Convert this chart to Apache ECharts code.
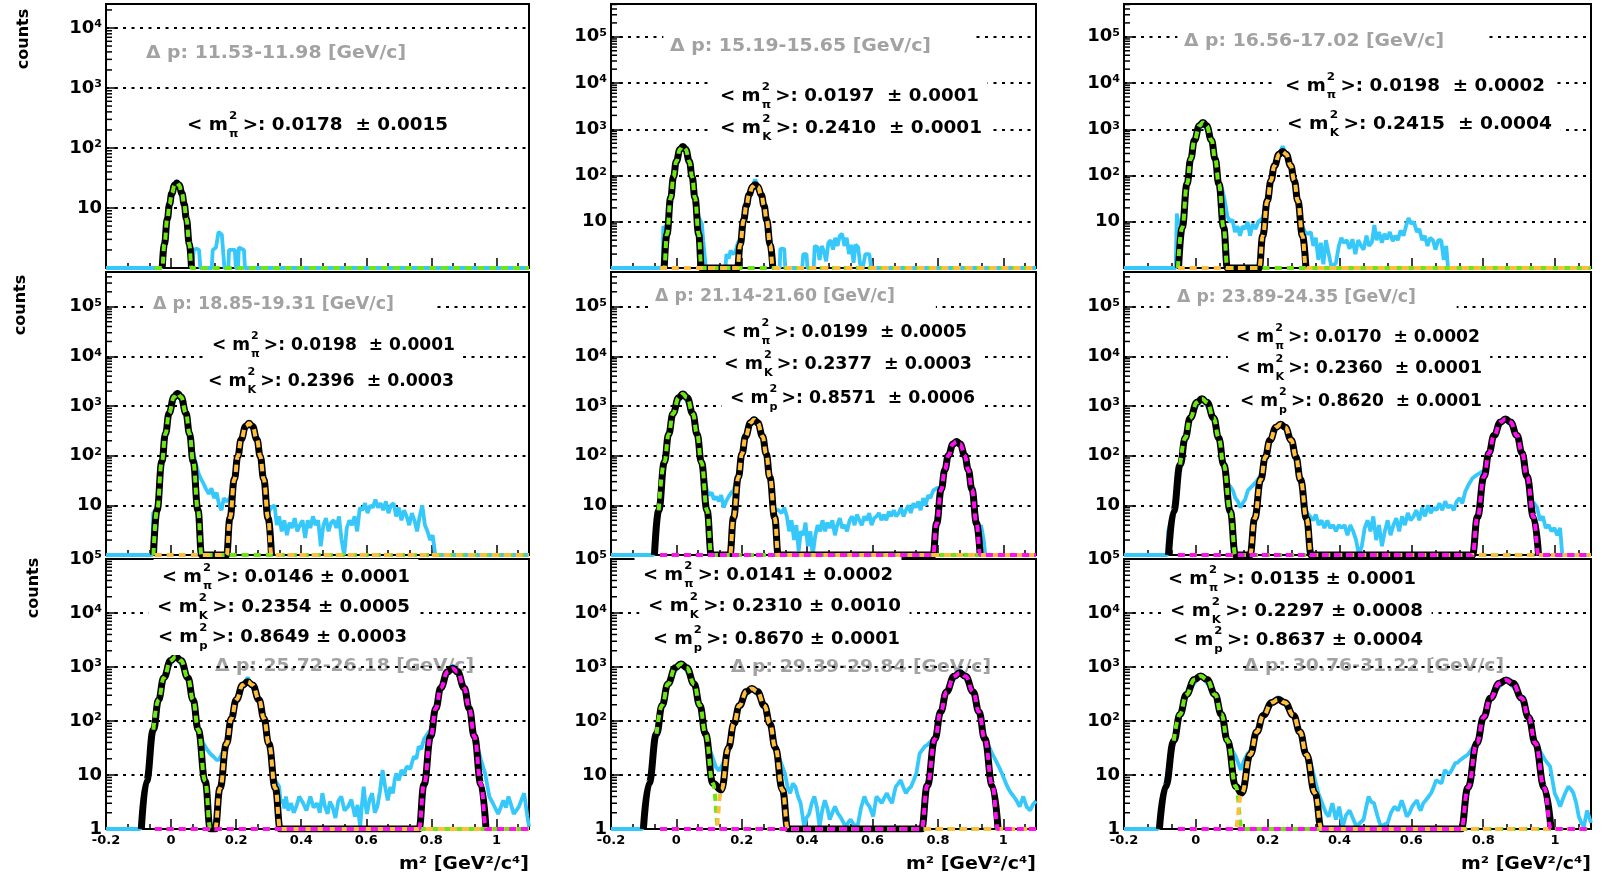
<!DOCTYPE html>
<html><head><meta charset="utf-8">
<script src="https://cdn.jsdelivr.net/npm/echarts@6/dist/echarts.min.js"></script>
<style>html,body{margin:0;padding:0;background:#fff;}#c{width:1610px;height:879px;}</style>
</head><body><div id="c"></div>
<script>
// ================= DATA =================
const momentumBins = ['11.53-11.98','15.19-15.65','16.56-17.02','18.85-19.31','21.14-21.60','23.89-24.35','25.72-26.18','29.39-29.84','30.76-31.22'];
const pionMean   = ['0.0178','0.0197','0.0198','0.0198','0.0199','0.0170','0.0146','0.0141','0.0135'];
const pionErr    = ['0.0015','0.0001','0.0002','0.0001','0.0005','0.0002','0.0001','0.0002','0.0001'];
const kaonMean   = [null,'0.2410','0.2415','0.2396','0.2377','0.2360','0.2354','0.2310','0.2297'];
const kaonErr    = [null,'0.0001','0.0004','0.0003','0.0003','0.0001','0.0005','0.0010','0.0008'];
const protonMean = [null,null,null,null,'0.8571','0.8620','0.8649','0.8670','0.8637'];
const protonErr  = [null,null,null,null,'0.0006','0.0001','0.0003','0.0001','0.0004'];
const yTopExp    = [4.4,5.71,5.71,5.7,5.7,5.7,5,5,5];   // top of each log axis, as power of ten
const xRange     = [-0.2, 1.1];
const xTickStep  = 0.2;

// measured histograms (m^2, counts)
const hist1 = [[-0.2,1],[-0.03,1],[-0.024,2.5],[-0.012,7],[0.002,18],[0.017,29],[0.033,18],[0.047,7],[0.056,2.6],[0.064,1],[0.068,1],[0.07,2],[0.078,2.1],[0.086,2],[0.09,1],[0.125,1],[0.128,2],[0.138,2.2],[0.146,4],[0.156,3.6],[0.164,1],[0.176,1],[0.178,2],[0.196,2],[0.199,1],[0.206,1],[0.208,2.2],[0.224,2],[0.227,1],[1.1,1]];
const hist2 = [[-0.2,1],[-0.042,1],[-0.04,8],[-0.034,7],[-0.0288,6],[-0.0174,34],[-0.0003,205],[0.0197,450],[0.0397,210],[0.0568,36],[0.066,14],[0.072,11],[0.078,9],[0.082,4],[0.086,2],[0.09,1],[0.15,1],[0.153,2],[0.16,1.6],[0.166,2.4],[0.172,2],[0.18,2.2],[0.188,3.5],[0.1951,4],[0.2059,12],[0.2221,40],[0.241,82],[0.2599,40],[0.2761,12],[0.2869,3.4],[0.295,1],[0.316,1],[0.318,2.6],[0.33,2.6],[0.333,1],[0.385,1],[0.388,2],[0.398,2],[0.401,1],[0.42,1],[0.423,3],[0.432,2.8],[0.438,1.5],[0.445,3],[0.452,2.2],[0.458,1.4],[0.465,3.5],[0.472,4],[0.479,2.5],[0.486,4.5],[0.493,3],[0.5,5],[0.507,5.5],[0.514,3],[0.521,4.5],[0.528,2],[0.535,3.2],[0.542,1.3],[0.548,3.2],[0.556,2.8],[0.562,1.2],[0.57,1],[0.578,2],[0.59,2],[0.596,1],[1.1,1]];
const hist3 = [[-0.2,1],[-0.056,1],[-0.053,15],[-0.048,9],[-0.038,9],[-0.0244,70],[-0.004,590],[0.0198,1450],[0.0436,600],[0.064,75],[0.072,57],[0.08,30],[0.088,13],[0.095,10],[0.102,11],[0.109,6],[0.116,8],[0.123,5],[0.13,8],[0.137,7],[0.144,10],[0.151,5],[0.158,9],[0.166,7],[0.174,10],[0.1862,12],[0.1992,30],[0.2187,165],[0.2415,430],[0.2643,165],[0.2838,30],[0.2968,8],[0.304,6],[0.312,5.5],[0.32,6],[0.327,3],[0.334,4.5],[0.341,1.5],[0.348,3.5],[0.355,1.2],[0.362,4],[0.37,2],[0.378,1],[0.39,1.3],[0.398,3],[0.405,4.5],[0.412,3.5],[0.42,4],[0.428,2.6],[0.436,4.2],[0.444,2],[0.452,4],[0.46,3],[0.467,2.5],[0.475,5],[0.482,3],[0.49,3.6],[0.497,8.5],[0.503,4],[0.51,6],[0.518,3.5],[0.525,5.5],[0.532,4.2],[0.54,6],[0.548,3.8],[0.555,5],[0.562,4],[0.57,6.5],[0.578,5],[0.585,8],[0.592,12],[0.6,9],[0.607,10],[0.615,6],[0.622,7],[0.63,4],[0.637,5],[0.645,3],[0.652,4.5],[0.66,4],[0.667,2.5],[0.675,4],[0.683,4],[0.69,1.5],[0.697,3],[0.702,1],[1.1,1]];
const hist4 = [[-0.2,1],[-0.058,1],[-0.055,7],[-0.043,9],[-0.0283,78],[-0.0061,720],[0.0198,1900],[0.0457,720],[0.068,120],[0.076,70],[0.084,45],[0.092,34],[0.1,27],[0.108,21],[0.116,17],[0.124,22],[0.132,14],[0.14,18],[0.148,10],[0.155,8],[0.162,14],[0.17,12],[0.181,14],[0.1947,36],[0.2154,215],[0.2396,500],[0.2638,215],[0.2845,35],[0.2983,7],[0.308,9],[0.318,10],[0.325,4],[0.332,6],[0.34,3],[0.348,5],[0.356,2.5],[0.364,4.5],[0.372,3.5],[0.38,5.5],[0.388,3],[0.396,4],[0.404,5],[0.412,2.2],[0.42,5],[0.428,3.5],[0.436,6],[0.444,4],[0.452,5],[0.46,1.5],[0.468,4],[0.476,5.5],[0.484,3],[0.492,4.5],[0.5,5],[0.508,3.5],[0.516,6],[0.524,2],[0.532,1],[0.54,3.5],[0.548,5],[0.556,4],[0.564,6],[0.572,3],[0.58,9],[0.588,8],[0.596,11],[0.604,7],[0.612,10],[0.62,9],[0.628,13],[0.636,9],[0.644,11],[0.652,8],[0.66,12],[0.668,7],[0.676,10],[0.684,11],[0.692,6],[0.7,9],[0.708,5],[0.716,8],[0.724,6],[0.732,4],[0.74,7],[0.748,5],[0.756,3],[0.764,6],[0.772,10],[0.78,4],[0.788,3],[0.796,2],[0.804,2.5],[0.812,1],[1.1,1]];
const hist5 = [[-0.2,1],[-0.07,1],[-0.067,2.5],[-0.0541,8],[-0.0367,76],[-0.0106,700],[0.0199,1800],[0.0504,700],[0.0765,76],[0.084,48],[0.092,22],[0.1,16],[0.108,18],[0.115,13],[0.122,15],[0.13,12],[0.137,16],[0.145,9],[0.152,12],[0.16,15],[0.168,18],[0.1748,20],[0.1896,40],[0.2118,250],[0.2377,600],[0.2636,250],[0.2858,38],[0.3006,8],[0.312,8],[0.322,7],[0.33,9],[0.338,6],[0.345,3],[0.352,5],[0.36,2],[0.367,4],[0.374,1.2],[0.381,3],[0.388,2.5],[0.395,4.5],[0.402,1.5],[0.41,3],[0.417,1],[0.425,2.5],[0.432,4],[0.44,3],[0.447,5],[0.455,3],[0.462,4.5],[0.47,3.5],[0.477,5],[0.485,2.5],[0.492,4],[0.5,5.5],[0.507,3.5],[0.515,4],[0.522,3],[0.53,5],[0.537,6],[0.545,4],[0.552,6.5],[0.56,5],[0.567,4],[0.575,6],[0.582,5],[0.59,7],[0.597,4],[0.605,5.5],[0.612,6],[0.62,7],[0.627,5],[0.635,6.5],[0.642,5],[0.65,7.5],[0.657,6],[0.665,8],[0.672,6],[0.68,7],[0.687,9],[0.695,6],[0.702,8],[0.71,10],[0.717,7],[0.725,11],[0.732,9],[0.74,12],[0.747,8],[0.755,14],[0.762,10],[0.77,16],[0.777,14],[0.786,20],[0.7959,22],[0.8103,24],[0.8319,105],[0.8571,215],[0.8823,105],[0.9039,22],[0.9183,6],[0.925,3],[0.932,4],[0.94,2],[0.945,1],[1.1,1]];
const hist6 = [[-0.2,1],[-0.08,1],[-0.077,3],[-0.0621,8],[-0.0435,66],[-0.0156,580],[0.017,1500],[0.0496,580],[0.0775,66],[0.09,26],[0.096,24],[0.103,20],[0.11,14],[0.117,12],[0.124,9],[0.13,11],[0.137,13],[0.145,20],[0.158,25],[0.168,30],[0.1807,40],[0.2062,210],[0.236,480],[0.2658,210],[0.2913,35],[0.3,12],[0.31,7],[0.318,6],[0.326,5],[0.334,6.5],[0.342,4],[0.35,5],[0.358,3.5],[0.366,5],[0.374,3.5],[0.382,4],[0.39,3],[0.398,4],[0.406,3.5],[0.414,4],[0.422,2.5],[0.43,4],[0.438,3],[0.446,2],[0.454,1],[0.462,1.5],[0.47,3.5],[0.478,5],[0.486,3],[0.494,6],[0.502,2],[0.51,4],[0.518,1.5],[0.526,3],[0.534,5],[0.542,2.5],[0.55,4],[0.558,5.5],[0.566,3],[0.574,6],[0.582,4],[0.59,7],[0.598,5],[0.606,6],[0.614,8],[0.622,5],[0.63,9],[0.638,6],[0.646,10],[0.654,7],[0.662,9],[0.67,8],[0.678,11],[0.686,8],[0.694,12],[0.702,9],[0.71,10],[0.718,8],[0.726,12],[0.734,14],[0.742,11],[0.75,19],[0.758,25],[0.77,35],[0.78,40],[0.8022,50],[0.8298,260],[0.862,600],[0.8942,260],[0.9218,40],[0.935,12],[0.942,11],[0.95,9],[0.958,5],[0.966,6],[0.974,3.5],[0.982,4],[0.99,3],[0.998,3.5],[1.006,2.5],[1.014,3.5],[1.02,1],[1.1,1]];
const hist7 = [[-0.2,1],[-0.095,1],[-0.0914,2],[-0.0755,8],[-0.0543,70],[-0.0225,640],[0.0146,1700],[0.0517,640],[0.0835,72],[0.099,39],[0.11,30],[0.12,25],[0.13,22],[0.14,19],[0.147,19],[0.155,24],[0.163,30],[0.1704,40],[0.2004,255],[0.2354,640],[0.2704,255],[0.3004,40],[0.32,8],[0.332,6.1],[0.337,3],[0.343,3.5],[0.348,2.4],[0.353,4],[0.36,2.2],[0.369,3],[0.377,2],[0.385,2.6],[0.394,4],[0.406,3],[0.416,2.2],[0.428,4],[0.438,2.5],[0.449,3],[0.457,2],[0.465,4.6],[0.473,2.6],[0.481,1.9],[0.488,3.2],[0.496,2.6],[0.505,1.6],[0.514,3.3],[0.523,4],[0.533,2.2],[0.544,2.6],[0.554,3.5],[0.565,1.7],[0.573,2.8],[0.581,1.1],[0.587,3],[0.592,6.1],[0.597,3],[0.602,1.9],[0.61,3.5],[0.618,4.6],[0.626,2],[0.634,2.6],[0.642,5],[0.65,12.4],[0.658,6],[0.666,3.4],[0.674,6],[0.682,4.6],[0.687,8],[0.692,10.7],[0.7,8],[0.708,12.4],[0.716,10],[0.724,14.4],[0.735,13],[0.746,22],[0.754,20],[0.761,34],[0.769,30],[0.777,46],[0.7979,70],[0.8289,420],[0.8649,1100],[0.9009,420],[0.9319,55],[0.9525,19],[0.965,10.7],[0.978,4],[0.989,3],[1.005,1.9],[1.013,2.5],[1.021,3.4],[1.029,2.5],[1.037,4],[1.045,2.8],[1.053,1.9],[1.061,2.2],[1.069,2.6],[1.077,3.5],[1.085,4.6],[1.095,1.7],[1.1,1.1]];
const hist8 = [[-0.2,1],[-0.104,1],[-0.1009,2],[-0.0837,8],[-0.0607,60],[-0.0262,490],[0.0141,1250],[0.0544,490],[0.0889,60],[0.1,33],[0.11,22],[0.121,14],[0.131,12],[0.142,16],[0.1595,34],[0.1925,200],[0.231,430],[0.2695,200],[0.3025,33],[0.332,10.7],[0.34,6],[0.348,4.6],[0.356,7],[0.364,6.1],[0.372,4],[0.38,3],[0.391,1.1],[0.398,1.6],[0.406,1.9],[0.414,3],[0.422,4],[0.43,2.5],[0.438,1.1],[0.446,2.2],[0.454,3.4],[0.462,2.4],[0.469,1.5],[0.477,2],[0.485,2.6],[0.493,2],[0.501,1.7],[0.509,1.4],[0.517,1.1],[0.525,1.3],[0.533,1.5],[0.543,1.2],[0.554,1.1],[0.565,2.5],[0.575,4],[0.583,3],[0.591,2.6],[0.602,1.7],[0.612,4],[0.62,3.5],[0.628,3],[0.636,3.8],[0.644,4.6],[0.652,3.6],[0.66,3],[0.666,4.5],[0.671,6.1],[0.679,7],[0.686,8],[0.694,6],[0.702,4.6],[0.71,5.5],[0.718,6.1],[0.726,8],[0.734,10.7],[0.744,25],[0.76,34],[0.7675,36],[0.7909,50],[0.826,350],[0.867,900],[0.908,350],[0.9431,50],[0.966,25],[0.976,19],[0.987,14],[0.998,10],[1.008,7],[1.016,5.5],[1.024,4.6],[1.032,4],[1.04,3.4],[1.05,2.6],[1.061,4],[1.071,2.6],[1.082,2.2],[1.09,2.8],[1.1,3.3]];
const hist9 = [[-0.2,1],[-0.105,1],[-0.1015,1.5],[-0.0843,7],[-0.0613,45],[-0.0268,310],[0.0135,720],[0.0538,310],[0.0883,44],[0.101,29],[0.111,22],[0.125,12.4],[0.135,19],[0.144,25],[0.1517,28],[0.1877,135],[0.2297,280],[0.2717,130],[0.3077,25],[0.322,14.4],[0.332,8],[0.341,4.6],[0.348,3.5],[0.355,2.6],[0.362,2],[0.37,1.7],[0.38,3],[0.39,1.5],[0.399,2.6],[0.409,1.1],[0.418,1.8],[0.428,2.2],[0.437,1.6],[0.447,1.1],[0.457,1.3],[0.467,1.5],[0.474,2.5],[0.481,4],[0.488,3.2],[0.496,3],[0.505,1.8],[0.515,1.1],[0.524,1.2],[0.534,1.3],[0.543,2],[0.553,2.6],[0.563,2.2],[0.573,3.4],[0.58,2.5],[0.587,1.7],[0.595,2],[0.602,2.6],[0.609,3],[0.616,3.4],[0.621,2.5],[0.626,2.2],[0.633,3],[0.64,3.4],[0.648,4],[0.655,4.6],[0.662,6],[0.669,8],[0.676,7.5],[0.684,7],[0.693,12.4],[0.7,11],[0.707,10.7],[0.714,13],[0.722,16.6],[0.729,17],[0.736,19],[0.745,21],[0.7574,24],[0.7824,42],[0.8199,270],[0.8637,620],[0.9075,270],[0.945,40],[0.972,19],[0.986,14.4],[0.999,4.6],[1.007,3.5],[1.014,2.6],[1.021,3.5],[1.028,4.6],[1.037,6.1],[1.044,5.5],[1.051,4.6],[1.059,3],[1.066,1.7],[1.073,1.3],[1.08,1.1],[1.089,2.2],[1.1,1.3]];

// fitted peak curves (m^2, counts)
const fitPi1 = [[-0.0272,1],[-0.0205,2.5],[-0.0115,6.6],[-0.0047,11.5],[0.0020,17.4],[0.0111,24.2],[0.0178,26],[0.0246,24.2],[0.0336,17.4],[0.0403,11.5],[0.0471,6.6],[0.0561,2.5],[0.0628,1]];
const fitPi2 = [[-0.0373,1],[-0.0288,5.4],[-0.0174,33],[-0.0088,93.5],[-0.0003,202],[0.0112,371],[0.0197,425],[0.0283,371],[0.0397,202],[0.0482,93.5],[0.0568,33],[0.0682,5.4],[0.0767,1]];
const fitK2  = [[0.187,1],[0.1951,3.2],[0.2059,11],[0.214,22.4],[0.2221,38],[0.2329,57.5],[0.241,63],[0.2491,57.5],[0.2599,38],[0.268,22.4],[0.2761,11],[0.2869,3.2],[0.295,1]];
const fitPi3 = [[-0.0482,1],[-0.038,7.5],[-0.0244,66],[-0.0142,229],[-0.004,576],[0.0096,1189],[0.0198,1400],[0.03,1189],[0.0436,576],[0.0538,229],[0.064,66],[0.0776,7.5],[0.0878,1]];
const fitK3  = [[0.1765,1],[0.1862,5],[0.1992,28.5],[0.209,77.5],[0.2187,162],[0.2318,290],[0.2415,330],[0.2513,290],[0.2643,162],[0.274,77.5],[0.2838,28.5],[0.2968,5],[0.3065,1]];
const fitPi4 = [[-0.0542,1],[-0.0431,8],[-0.0283,76],[-0.0172,276],[-0.0061,718],[0.0087,1520],[0.0198,1800],[0.0309,1520],[0.0457,718],[0.0568,276],[0.0679,76],[0.0827,8],[0.0938,1]];
const fitK4  = [[0.1706,1],[0.1809,5.5],[0.1947,34],[0.2051,97.7],[0.2154,213],[0.2293,392],[0.2396,450],[0.25,392],[0.2638,213],[0.2741,97.7],[0.2845,34],[0.2983,5.5],[0.3086,1]];
const fitPi5 = [[-0.0671,1],[-0.0541,7.9],[-0.0367,74],[-0.0236,269],[-0.0106,697],[0.0069,1469],[0.0199,1740],[0.033,1469],[0.0504,697],[0.0634,269],[0.0765,74],[0.0939,7.9],[0.1069,1]];
const fitK5  = [[0.1637,1],[0.1748,5.7],[0.1896,37],[0.2007,110],[0.2118,246],[0.2266,460],[0.2377,530],[0.2488,460],[0.2636,246],[0.2747,110],[0.2858,37],[0.3006,5.7],[0.3117,1]];
const fitP5  = [[0.7851,1],[0.7959,4.3],[0.8103,21],[0.8211,51.8],[0.8319,101],[0.8463,172],[0.8571,193],[0.8679,172],[0.8823,101],[0.8931,51.8],[0.9039,21],[0.9183,4.3],[0.9291,1]];
const fitPi6 = [[-0.076,1],[-0.0621,7.5],[-0.0435,66],[-0.0295,229],[-0.0156,576],[0.0031,1189],[0.017,1400],[0.031,1189],[0.0496,576],[0.0635,229],[0.0775,66],[0.0961,7.5],[0.11,1]];
const fitK6  = [[0.151,1],[0.1637,5.4],[0.1807,33],[0.1935,94.4],[0.2062,204],[0.2233,375],[0.236,430],[0.2488,375],[0.2658,204],[0.2785,94.4],[0.2913,33],[0.3083,5.4],[0.321,1]];
const fitP6  = [[0.77,1],[0.7838,5.8],[0.8022,38],[0.816,113.5],[0.8298,254],[0.8482,477],[0.862,550],[0.8758,477],[0.8942,254],[0.908,113.5],[0.9218,38],[0.9402,5.8],[0.954,1]];
const fitPi7 = [[-0.0914,1],[-0.0755,7.7],[-0.0543,69],[-0.0384,247],[-0.0225,630],[-0.0013,1313],[0.0146,1550],[0.0305,1313],[0.0517,630],[0.0676,247],[0.0835,69],[0.1047,7.7],[0.1206,1]];
const fitK7  = [[0.1354,1],[0.1504,5.7],[0.1704,38],[0.1854,111],[0.2004,248],[0.2204,464],[0.2354,535],[0.2504,464],[0.2704,248],[0.2854,111],[0.3004,38],[0.3204,5.7],[0.3354,1]];
const fitP7  = [[0.7619,1],[0.7773,6.7],[0.7979,52],[0.8134,171],[0.8289,410],[0.8495,815],[0.8649,950],[0.8804,815],[0.9009,410],[0.9164,171],[0.9319,52],[0.9525,6.7],[0.9679,1]];
const fitPi8 = [[-0.1009,1],[-0.0837,7],[-0.0607,58],[-0.0434,196],[-0.0262,482],[-0.0032,973],[0.0141,1140],[0.0314,973],[0.0544,482],[0.0716,196],[0.0889,58],[0.1119,7],[0.1291,1]];
const fitK8  = [[0.121,1],[0.1375,5.3],[0.1595,32],[0.176,89.4],[0.1925,192],[0.2145,350],[0.231,400],[0.2475,350],[0.2695,192],[0.286,89.4],[0.3025,32],[0.3245,5.3],[0.341,1]];
const fitP8  = [[0.75,1],[0.7675,6.4],[0.7909,47],[0.8085,147.6],[0.826,345],[0.8495,671],[0.867,780],[0.8846,671],[0.908,345],[0.9255,147.6],[0.9431,47],[0.9665,6.4],[0.984,1]];
const fitPi9 = [[-0.1015,1],[-0.0843,6.1],[-0.0613,43],[-0.044,133],[-0.0268,306],[-0.0038,588],[0.0135,680],[0.0308,588],[0.0538,306],[0.071,133],[0.0883,43],[0.1113,6.1],[0.1285,1]];
const fitK9  = [[0.1097,1],[0.1277,4.6],[0.1517,24],[0.1697,62.9],[0.1877,127],[0.2117,221],[0.2297,250],[0.2477,221],[0.2717,127],[0.2897,62.9],[0.3077,24],[0.3317,4.6],[0.3497,1]];
const fitP9  = [[0.7387,1],[0.7574,5.8],[0.7824,39],[0.8012,117.5],[0.8199,264],[0.845,499],[0.8637,575],[0.8825,499],[0.9075,264],[0.9262,117.5],[0.945,39],[0.97,5.8],[0.9887,1]];

const panelHist = [hist1,hist2,hist3,hist4,hist5,hist6,hist7,hist8,hist9];
const panelFits = [[fitPi1],[fitPi2,fitK2],[fitPi3,fitK3],[fitPi4,fitK4],[fitPi5,fitK5,fitP5],[fitPi6,fitK6,fitP6],[fitPi7,fitK7,fitP7],[fitPi8,fitK8,fitP8],[fitPi9,fitK9,fitP9]];

// ================= LAYOUT / STYLE =================
const colLeft = [106, 611, 1124], colWidth = [423, 425, 467];
const rowTop = [4, 272, 559], rowHeight = [264, 283, 270];
const BLUE = '#36c8fb';
const COMP_COLORS = ['#6ee614', '#ffbe3c', '#ff10ee'];
const FAM = '"DejaVu Sans"';
const COMP_START = -0.05;

const dpPos = [[146,54,260],[670,47,261],[1184,42,260],[153,305,241],[655,297,240],[1177,298,239],[215,667,259],[731,668,260],[1244,667,260]];
const massPos = [
  [[187,126,261]],
  [[720,97,259],[720,129,262]],
  [[1285,87,260],[1287,125,265]],
  [[212,346,243],[208,382,246]],
  [[722,333,245],[724,365,248],[730,399,245]],
  [[1236,338,244],[1236,369,246],[1240,402,242]],
  [[162,578,248],[157,608,253],[158,638,249]],
  [[643,576,250],[648,607,253],[653,640,247]],
  [[1168,580,248],[1170,612,253],[1173,641,250]]
];
const countsPos = [[24,39],[21,305],[34,588]];

const mctx = document.createElement('canvas').getContext('2d');
function textW(s, font){ mctx.font = font; return mctx.measureText(s).width; }

function totalCurve(fits){
  const pts = [];
  fits.forEach((f, idx) => f.forEach(p => {
    const inside = p[1] <= 1 && fits.some((g, j) => j !== idx && p[0] > g[0][0] && p[0] < g[g.length-1][0]);
    if (!inside) pts.push(p);
  }));
  return pts.sort((a, b) => a[0] - b[0]);
}
function componentCurve(fit){
  const pts = fit.filter(p => p[0] >= COMP_START - 0.012);
  const out = [];
  if (pts[0][0] > COMP_START && pts[0][1] <= 1) out.push([COMP_START, 1]);
  return out.concat(pts, [[xRange[1], 1]]);
}

function txt(x, y, s, font, fill, z, extra){
  return Object.assign({type:'text', x:x, y:y, z:z, silent:true,
    style:{text:s, font:font, fill:fill, align:'left', verticalAlign:'middle', textVerticalAlign:'middle'}}, extra || {});
}
function massLine(pos, sub, mean, err, sep, bg){
  const fM = 'bold 17px ' + FAM, fS = 'bold 11px ' + FAM;
  const head = '< m', rest = '>: ' + mean + sep + '\u00b1 ' + err;
  const w1 = textW(head, fM) + 1;
  const ws = Math.max(textW('2', fS), textW(sub, fS)) + 4;
  const w3 = textW(rest, fM);
  const nat = w1 + ws + w3;
  const ch = [];
  if (bg) ch.push({type:'rect', z:9, silent:true, shape:{x:-8, y:-19, width:nat+16, height:36}, style:{fill:'#fff'}});
  ch.push(txt(0, 0, head, fM, '#000', 10));
  ch.push(txt(w1, -10, '2', fS, '#000', 10));
  ch.push(txt(w1, 8, sub, fS, '#000', 10));
  ch.push(txt(w1 + ws, 0, rest, fM, '#000', 10));
  return {type:'group', x:pos[0], y:pos[1], scaleX:pos[2]/nat, children:ch};
}
function deltaP(pos, bin, bg){
  const f = 'bold 17px ' + FAM;
  const s = '\u0394 p: ' + bin + ' [GeV/c]';
  const nat = textW(s, f);
  const ch = [];
  if (bg) ch.push({type:'rect', z:9, silent:true, shape:{x:-6, y:-15, width:nat+46, height:29}, style:{fill:'#fff'}});
  ch.push(txt(0, 0, s, f, '#a2a2a2', bg ? 10 : -1));
  return {type:'group', x:pos[0], y:pos[1], scaleX:pos[2]/nat, children:ch};
}

const grids = [], xAxes = [], yAxes = [], series = [], graphics = [];
for (let i = 0; i < 9; i++){
  const r = Math.floor(i / 3), c = i % 3;
  const yMax = Math.pow(10, yTopExp[i]);
  grids.push({left:colLeft[c], top:rowTop[r], width:colWidth[c], height:rowHeight[r], show:true,
    borderColor:'#000', borderWidth:2, backgroundColor:'transparent'});
  xAxes.push({type:'value', gridIndex:i, min:xRange[0], max:xRange[1], interval:xTickStep,
    axisLine:{show:true, onZero:false, lineStyle:{color:'#000', width:2}},
    axisTick:{show:true, inside:true, length:10, lineStyle:{color:'#000', width:1.5}},
    minorTick:{show:true, splitNumber:3, length:5, lineStyle:{color:'#000', width:1.5}},
    splitLine:{show:false},
    axisLabel:{show:r === 2, showMaxLabel:false, margin:5, color:'#000', fontFamily:'DejaVu Sans', fontWeight:'bold', fontSize:13}});
  yAxes.push({type:'log', logBase:10, gridIndex:i, min:1, max:yMax,
    axisLine:{show:true, onZero:false, lineStyle:{color:'#000', width:2}},
    axisTick:{show:true, inside:true, length:12, lineStyle:{color:'#000', width:1.5}},
    splitLine:{show:true, lineStyle:{color:'#000', width:2, type:[3,5.5]}},
    axisLabel:{show:true, showMinLabel:r === 2, margin:4, color:'#000', fontFamily:'DejaVu Sans', fontWeight:'bold', fontSize:18,
      formatter:function(v){ const l = Math.log10(v), n = Math.round(l);
        if (Math.abs(l - n) > 0.01) return ''; if (n === 0) return '1'; if (n === 1) return '10'; return '10{s|' + n + '}'; },
      rich:{s:{fontSize:11, fontWeight:'bold', fontFamily:'DejaVu Sans', color:'#000', verticalAlign:'top', lineHeight:12}}}});

  // log-spaced minor ticks on the y axis (2..9 x 10^n)
  const minor = [];
  for (let n = 0; n < 6; n++) for (let k = 2; k <= 9; k++){ const v = k * Math.pow(10, n); if (v < yMax) minor.push([xRange[0], v]); }
  series.push({type:'custom', xAxisIndex:i, yAxisIndex:i, silent:true, z:5, clip:false, data:minor,
    renderItem:function(params, api){ const p = api.coord([api.value(0), api.value(1)]);
      return {type:'line', shape:{x1:p[0], y1:p[1], x2:p[0] + 6, y2:p[1]}, style:{stroke:'#000', lineWidth:1.5}}; }});

  series.push({type:'line', xAxisIndex:i, yAxisIndex:i, data:panelHist[i], symbol:'none', silent:true, z:2,
    lineStyle:{color:BLUE, width:3.8}});
  series.push({type:'line', xAxisIndex:i, yAxisIndex:i, data:totalCurve(panelFits[i]), symbol:'none', silent:true, z:3,
    smooth:0.45, smoothMonotone:'x', lineStyle:{color:'#000', width:7}});
  panelFits[i].forEach((f, k) => series.push({type:'line', xAxisIndex:i, yAxisIndex:i, data:componentCurve(f), symbol:'none', silent:true, z:4,
    smooth:0.45, smoothMonotone:'x', lineStyle:{color:COMP_COLORS[k], width:4, type:[7,5]}}));

  // annotations
  const sep = r === 2 ? ' ' : '  ';
  const bgDp = r !== 2;
  graphics.push(deltaP(dpPos[i], momentumBins[i], bgDp));
  const lines = [['\u03c0', pionMean[i], pionErr[i]], ['K', kaonMean[i], kaonErr[i]], ['p', protonMean[i], protonErr[i]]];
  massPos[i].forEach((pos, k) => graphics.push(massLine(pos, lines[k][0], lines[k][1], lines[k][2], sep, true)));
}
// y titles
countsPos.forEach(p => graphics.push({type:'text', x:p[0], y:p[1], rotation:Math.PI/2, z:10, silent:true,
  style:{text:'counts', font:'bold 16px ' + FAM, fill:'#000', align:'center', verticalAlign:'middle', textVerticalAlign:'middle'}}));
// x titles
for (let c = 0; c < 3; c++){
  const f = 'bold 17px ' + FAM, s = 'm\u00b2 [GeV\u00b2/c\u2074]';
  const nat = textW(s, f);
  graphics.push({type:'text', x:colLeft[c] + colWidth[c], y:865, scaleX:130/nat, z:10, silent:true,
    style:{text:s, font:f, fill:'#000', align:'right', verticalAlign:'middle', textVerticalAlign:'middle'}});
}

const chart = echarts.init(document.getElementById('c'), null, {renderer:'canvas', width:1610, height:879});
chart.setOption({animation:false, backgroundColor:'#fff', grid:grids, xAxis:xAxes, yAxis:yAxes, series:series, graphic:{elements:graphics}});
</script></body></html>
